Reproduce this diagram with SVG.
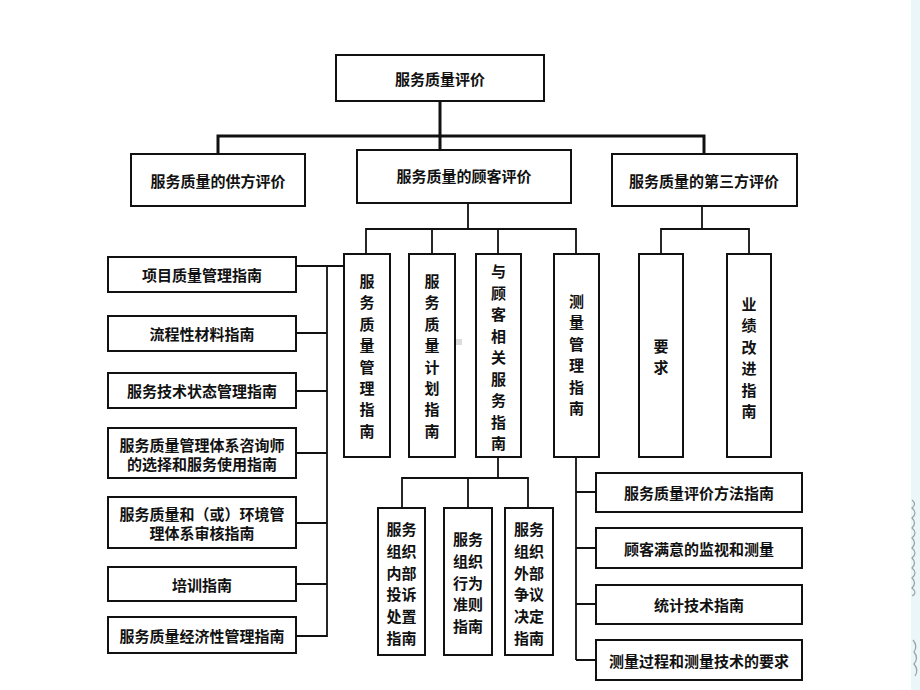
<svg xmlns="http://www.w3.org/2000/svg" width="920" height="690" viewBox="0 0 920 690">
<style>
.box{fill:#fff;stroke:#111;stroke-width:2}
.t{font-family:"Noto Sans CJK SC","Noto Sans CJK JP",sans-serif;font-size:15px;font-weight:bold;fill:#111;text-anchor:middle;dominant-baseline:central}
.thick{fill:none;stroke:#111;stroke-width:3}
.thin{fill:none;stroke:#111;stroke-width:1.8}
</style>
<rect x="0" y="0" width="920" height="690" fill="#fff"/>
<rect x="911" y="0" width="9" height="690" fill="#eaf6f8"/>
<g id="edge-decor" fill="none" stroke="#9aa2a2" stroke-width="1.2">
<path d="M912 500 q5 4 0 8 q6 5 0 10 q5 5 0 10 q6 5 0 10 q5 5 0 10 q6 5 0 10 q5 5 0 10 q6 5 0 10 q5 5 0 10 q6 5 0 8"/>
<path d="M913 640 q5 6 1 12 q5 6 0 12 q5 6 1 12"/>
</g>
<rect x="456" y="339" width="6" height="6" fill="#dcdcdc"/>
<g id="connectors">
<path class="thick" d="M440 101 V150 M218 154 V136 H704 V154"/>
<path class="thin" d="M468 203 V229 M366 254 V229 H576 V254 M432 229 V254 M498 229 V254"/>
<path class="thin" d="M702 206 V229 M661 254 V229 H749 V254"/>
<path class="thin" d="M296 266 H344 M327 266 V637 M296 333 H327 M296 391 H327 M296 453 H327 M296 523 H327 M296 584 H327 M296 636 H327"/>
<path class="thin" d="M498 457 V478 M402 508 V478 H528 V508 M468 478 V508"/>
<path class="thin" d="M576 457 V660 M576 492 H596 M576 548 H596 M576 604 H596 M576 660 H596"/>
</g>
<g id="n-root"><rect class="box" x="336" y="55" width="208" height="46"/><text class="t" x="440" y="78">服务质量评价</text></g>
<g id="n-supplier"><rect class="box" x="131" y="154" width="174" height="52"/><text class="t" x="218" y="180">服务质量的供方评价</text></g>
<g id="n-customer"><rect class="box" x="357" y="150" width="214" height="53"/><text class="t" x="464" y="175">服务质量的顾客评价</text></g>
<g id="n-third"><rect class="box" x="612" y="154" width="185" height="52"/><text class="t" x="704" y="180">服务质量的第三方评价</text></g>
<g id="n-c1"><rect class="box" x="344" y="254" width="46" height="203"/>
<text class="t"><tspan x="367" y="280">服</tspan><tspan x="367" y="301.4">务</tspan><tspan x="367" y="322.8">质</tspan><tspan x="367" y="344.2">量</tspan><tspan x="367" y="365.6">管</tspan><tspan x="367" y="387">理</tspan><tspan x="367" y="408.4">指</tspan><tspan x="367" y="429.8">南</tspan></text></g>
<g id="n-c2"><rect class="box" x="409" y="254" width="46" height="203"/>
<text class="t"><tspan x="432" y="280">服</tspan><tspan x="432" y="301.4">务</tspan><tspan x="432" y="322.8">质</tspan><tspan x="432" y="344.2">量</tspan><tspan x="432" y="365.6">计</tspan><tspan x="432" y="387">划</tspan><tspan x="432" y="408.4">指</tspan><tspan x="432" y="429.8">南</tspan></text></g>
<g id="n-c3"><rect class="box" x="476" y="254" width="45" height="203"/>
<text class="t"><tspan x="498.5" y="270">与</tspan><tspan x="498.5" y="291.5">顾</tspan><tspan x="498.5" y="313">客</tspan><tspan x="498.5" y="334.5">相</tspan><tspan x="498.5" y="356">关</tspan><tspan x="498.5" y="377.5">服</tspan><tspan x="498.5" y="399">务</tspan><tspan x="498.5" y="420.5">指</tspan><tspan x="498.5" y="442">南</tspan></text></g>
<g id="n-c4"><rect class="box" x="554" y="254" width="45" height="203"/>
<text class="t"><tspan x="576.5" y="300">测</tspan><tspan x="576.5" y="321.4">量</tspan><tspan x="576.5" y="342.8">管</tspan><tspan x="576.5" y="364.2">理</tspan><tspan x="576.5" y="385.6">指</tspan><tspan x="576.5" y="407">南</tspan></text></g>
<g id="n-t1"><rect class="box" x="639" y="254" width="44" height="203"/>
<text class="t"><tspan x="661" y="345">要</tspan><tspan x="661" y="366">求</tspan></text></g>
<g id="n-t2"><rect class="box" x="727" y="254" width="44" height="203"/>
<text class="t"><tspan x="749" y="303">业</tspan><tspan x="749" y="324.4">绩</tspan><tspan x="749" y="345.8">改</tspan><tspan x="749" y="367.2">进</tspan><tspan x="749" y="388.6">指</tspan><tspan x="749" y="410">南</tspan></text></g>
<g id="n-l1"><rect class="box" x="108" y="257" width="188" height="35"/><text class="t" x="202" y="274.5">项目质量管理指南</text></g>
<g id="n-l2"><rect class="box" x="108" y="316" width="188" height="35"/><text class="t" x="202" y="333.5">流程性材料指南</text></g>
<g id="n-l3"><rect class="box" x="108" y="373" width="188" height="35"/><text class="t" x="202" y="390.5">服务技术状态管理指南</text></g>
<g id="n-l4"><rect class="box" x="108" y="428" width="188" height="50"/><text class="t"><tspan x="202" y="443.5">服务质量管理体系咨询师</tspan><tspan x="202" y="462.5">的选择和服务使用指南</tspan></text></g>
<g id="n-l5"><rect class="box" x="108" y="497" width="188" height="51"/><text class="t"><tspan x="202" y="513">服务质量和（或）环境管</tspan><tspan x="202" y="532">理体系审核指南</tspan></text></g>
<g id="n-l6"><rect class="box" x="108" y="567" width="188" height="34"/><text class="t" x="202" y="584">培训指南</text></g>
<g id="n-l7"><rect class="box" x="108" y="617" width="188" height="36"/><text class="t" x="202" y="635">服务质量经济性管理指南</text></g>
<g id="n-b1"><rect class="box" x="378" y="508" width="47" height="147"/>
<text class="t"><tspan x="401.5" y="528">服务</tspan><tspan x="401.5" y="549.8">组织</tspan><tspan x="401.5" y="571.6">内部</tspan><tspan x="401.5" y="593.4">投诉</tspan><tspan x="401.5" y="615.2">处置</tspan><tspan x="401.5" y="637">指南</tspan></text></g>
<g id="n-b2"><rect class="box" x="444" y="508" width="48" height="147"/>
<text class="t"><tspan x="468" y="538">服务</tspan><tspan x="468" y="559.8">组织</tspan><tspan x="468" y="581.6">行为</tspan><tspan x="468" y="603.4">准则</tspan><tspan x="468" y="625.2">指南</tspan></text></g>
<g id="n-b3"><rect class="box" x="505" y="508" width="48" height="147"/>
<text class="t"><tspan x="529" y="528">服务</tspan><tspan x="529" y="549.8">组织</tspan><tspan x="529" y="571.6">外部</tspan><tspan x="529" y="593.4">争议</tspan><tspan x="529" y="615.2">决定</tspan><tspan x="529" y="637">指南</tspan></text></g>
<g id="n-r1"><rect class="box" x="596" y="473" width="206" height="39"/><text class="t" x="699" y="492.5">服务质量评价方法指南</text></g>
<g id="n-r2"><rect class="box" x="596" y="528" width="206" height="40"/><text class="t" x="699" y="548">顾客满意的监视和测量</text></g>
<g id="n-r3"><rect class="box" x="596" y="585" width="206" height="39"/><text class="t" x="699" y="604.5">统计技术指南</text></g>
<g id="n-r4"><rect class="box" x="596" y="640" width="206" height="40"/><text class="t" x="699" y="660">测量过程和测量技术的要求</text></g>
</svg>
